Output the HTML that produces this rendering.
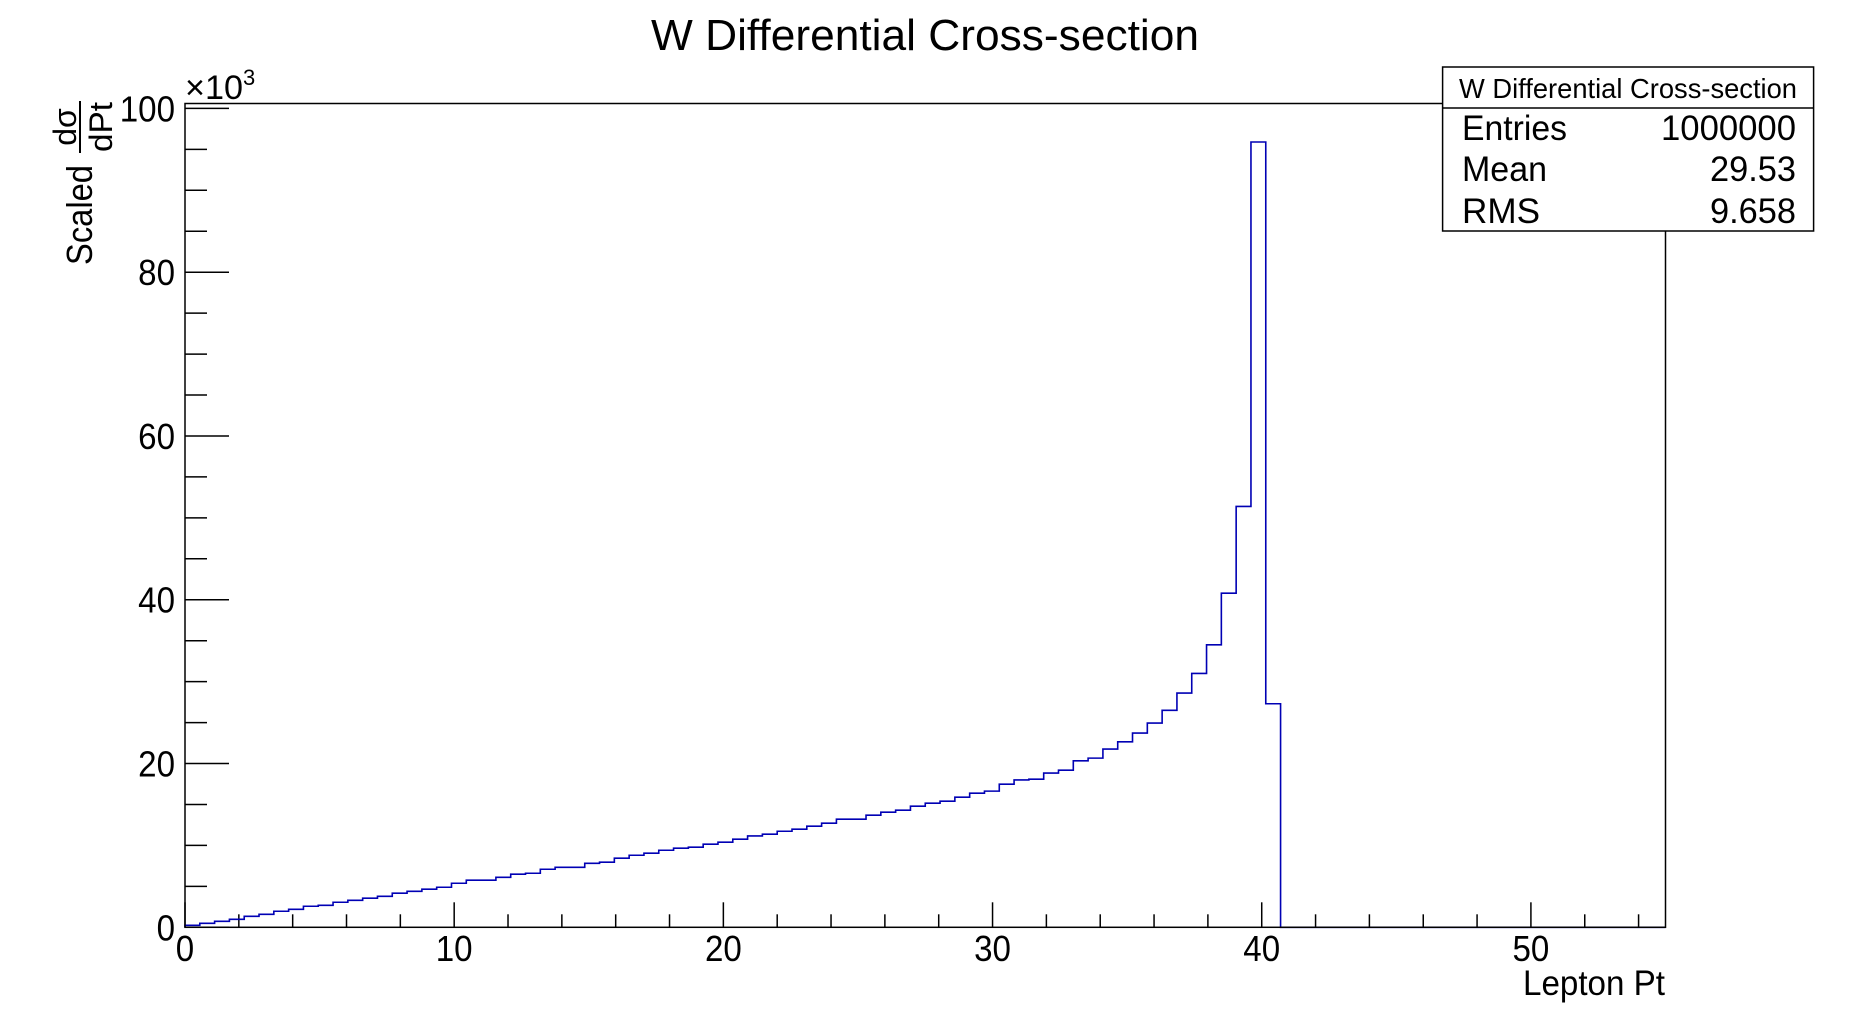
<!DOCTYPE html>
<html><head><meta charset="utf-8"><style>
html,body{margin:0;padding:0;background:#fff;}
svg{display:block;font-family:"Liberation Sans",Arial,sans-serif;}
</style></head><body>
<svg id="chart" width="1851" height="1030" viewBox="0 0 1851 1030" xmlns="http://www.w3.org/2000/svg">
<text x="925" y="50" font-size="44" text-anchor="middle" textLength="548" lengthAdjust="spacingAndGlyphs">W Differential Cross-section</text>
<g id="axes"></g>
<path id="hist" fill="none" stroke="#0000b4" stroke-width="1.6"/>
<rect x="185" y="103.5" width="1480.5" height="823.8" fill="none" stroke="#000" stroke-width="1.5"/>
<text x="185" y="99" font-size="34" textLength="58" lengthAdjust="spacingAndGlyphs">×10</text>
<text x="243" y="85" font-size="22">3</text>
<g transform="translate(92,215) rotate(-90)">
<text x="0" y="0" font-size="36" text-anchor="middle" textLength="100" lengthAdjust="spacingAndGlyphs">Scaled</text>
<text x="88" y="-16" font-size="32" text-anchor="middle">dσ</text>
<line x1="62" y1="-12" x2="114" y2="-12" stroke="#000" stroke-width="2"/>
<text x="88" y="20" font-size="32" text-anchor="middle" textLength="50" lengthAdjust="spacingAndGlyphs">dPt</text>
</g>
<text x="1665" y="995" font-size="35" text-anchor="end" textLength="142" lengthAdjust="spacingAndGlyphs">Lepton Pt</text>
<g>
<rect x="1442.6" y="67" width="371" height="164" fill="#fff" stroke="#000" stroke-width="1.5"/>
<line x1="1442.6" y1="108" x2="1813.6" y2="108" stroke="#000" stroke-width="1.5"/>
<text x="1628" y="98" font-size="28" text-anchor="middle" textLength="338" lengthAdjust="spacingAndGlyphs">W Differential Cross-section</text>
<text x="1462" y="140" font-size="35" textLength="105" lengthAdjust="spacingAndGlyphs">Entries</text><text x="1796" y="140" font-size="35" text-anchor="end" textLength="135" lengthAdjust="spacingAndGlyphs">1000000</text>
<text x="1462" y="181" font-size="35" textLength="85" lengthAdjust="spacingAndGlyphs">Mean</text><text x="1796" y="181" font-size="35" text-anchor="end" textLength="86" lengthAdjust="spacingAndGlyphs">29.53</text>
<text x="1462" y="223" font-size="35" textLength="78" lengthAdjust="spacingAndGlyphs">RMS</text><text x="1796" y="223" font-size="35" text-anchor="end" textLength="86" lengthAdjust="spacingAndGlyphs">9.658</text>
</g>
</svg>
<script>
const binWidth = 0.55;
const binValues = [0.24,0.49,0.73,0.98,1.34,1.59,1.96,2.2,2.57,2.69,3.06,3.30,3.55,3.79,4.16,4.4,4.65,4.89,5.38,5.75,5.75,6.11,6.48,6.6,7.09,7.33,7.33,7.82,7.95,8.44,8.8,9.05,9.41,9.66,9.78,10.15,10.39,10.76,11.16,11.37,11.73,11.98,12.35,12.71,13.2,13.2,13.69,14.06,14.30,14.79,15.16,15.40,15.89,16.38,16.63,17.48,18.0,18.09,18.83,19.19,20.33,20.66,21.76,22.65,23.72,24.94,26.5,28.6,31.0,34.5,40.8,51.4,95.9,27.3];
const xTicks = [0,10,20,30,40,50];
const yTicks = [0,20,40,60,80,100];
const xMin=0,xMax=55,yMin=0,yMax=100.6;
const X0=185,X1=1665.5,Y0=927.3,Y1=103.5;
function sx(v){return X0+(v-xMin)/(xMax-xMin)*(X1-X0);}
function sy(v){return Y0-(v-yMin)/(yMax-yMin)*(Y0-Y1);}
const NS="http://www.w3.org/2000/svg";
const axes=document.getElementById('axes');
function ln(x1,y1,x2,y2){const l=document.createElementNS(NS,'line');l.setAttribute('x1',x1);l.setAttribute('y1',y1);l.setAttribute('x2',x2);l.setAttribute('y2',y2);l.setAttribute('stroke','#000');l.setAttribute('stroke-width','1.5');axes.appendChild(l);return l;}
for(let v=0;v<=xMax;v+=2){const major=(v%10===0);const t=ln(sx(v),Y0,sx(v),Y0-(major?25:13));

}
for(let v=0;v<=100;v+=5){const major=(v%20===0);const t=ln(X0,sy(v),X0+(major?44:22),sy(v));

}
function lbl(x,y,s,anchor){const t=document.createElementNS(NS,'text');t.setAttribute('font-size','36');
t.setAttribute('text-anchor',anchor);t.setAttribute('transform','translate('+x+','+y+') scale(0.92,1)');t.textContent=s;axes.appendChild(t);return t;}
xTicks.forEach(v=>{const t=lbl(sx(v),961,String(v),'middle');

});
yTicks.forEach(v=>{const t=lbl(175,sy(v)+13,String(v),'end');

});
let d='M'+sx(0)+','+sy(0);
binValues.forEach((v,i)=>{d+=' L'+sx(i*binWidth)+','+sy(v)+' L'+sx((i+1)*binWidth)+','+sy(v);});
d+=' L'+sx(binValues.length*binWidth)+','+sy(0)+' L'+sx(xMax)+','+sy(0);
document.getElementById('hist').setAttribute('d',d);
</script>
</body></html>
